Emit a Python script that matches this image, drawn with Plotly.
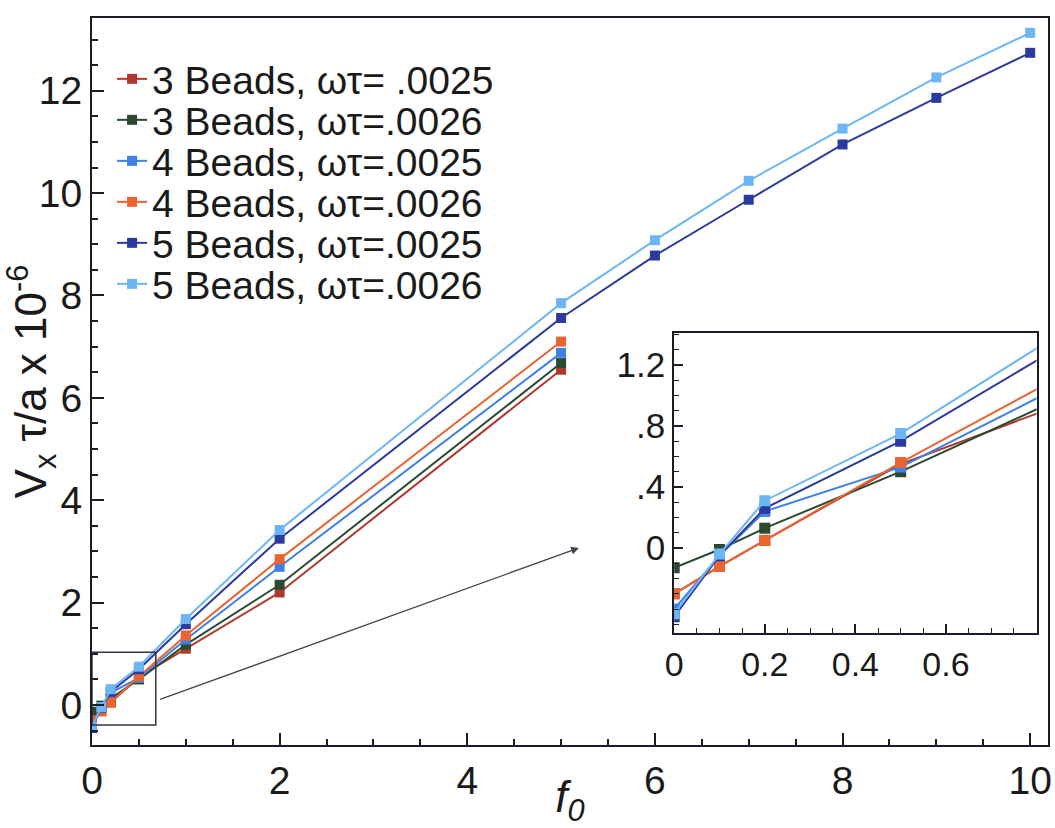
import plotly.graph_objects as go

# ---- data (V_x tau / a  x 1e-6) ----
f0_short = [0, 0.1, 0.2, 0.5, 1, 2, 5]
f0_long = [0, 0.1, 0.2, 0.5, 1, 2, 5, 6, 7, 8, 9, 10]

beads3_0025 = [-0.30, -0.12, 0.05, 0.55, 1.10, 2.20, 6.55]
beads3_0026 = [-0.13, -0.01, 0.13, 0.50, 1.18, 2.35, 6.68]
beads4_0025 = [-0.40, -0.05, 0.24, 0.53, 1.28, 2.70, 6.88]
beads4_0026 = [-0.30, -0.12, 0.05, 0.56, 1.36, 2.85, 7.10]
beads5_0025 = [-0.45, -0.05, 0.26, 0.70, 1.58, 3.25, 7.56, 8.78, 9.87, 10.95, 11.86, 12.74]
beads5_0026 = [-0.43, -0.04, 0.31, 0.75, 1.68, 3.42, 7.85, 9.08, 10.24, 11.26, 12.26, 13.13]

labels = [
    "3 Beads, ωτ= .0025",
    "3 Beads, ωτ=.0026",
    "4 Beads, ωτ=.0025",
    "4 Beads, ωτ=.0026",
    "5 Beads, ωτ=.0025",
    "5 Beads, ωτ=.0026",
]
colors = ["#b0382c", "#2c4a30", "#3f80e8", "#ea6430", "#2b3a9e", "#6cb6f6"]
xs = [f0_short, f0_short, f0_short, f0_short, f0_long, f0_long]
ys = [beads3_0025, beads3_0026, beads4_0025, beads4_0026, beads5_0025, beads5_0026]

main_xticks = [0, 2, 4, 6, 8, 10]
main_yticks = [0, 2, 4, 6, 8, 10, 12]
inset_xticks = [0, 0.2, 0.4, 0.6]
inset_xtext = ["0", "0.2", "0.4", "0.6"]
inset_yticks = [0, 0.4, 0.8, 1.2]
inset_ytext = ["0", ".4", ".8", "1.2"]

FONT = "Liberation Sans, Arial, sans-serif"
AX = "#1c1c28"

# layout geometry (pixels) used for legend placement
PLOT_TOP, PLOT_BOTTOM = 18, 745
legend_rows_px = [79, 120, 161, 202, 243, 284]
legend_names = ["legend", "legend2", "legend3", "legend4", "legend5", "legend6"]

fig = go.Figure()
for x, y, lab, c, lg in zip(xs, ys, labels, colors, legend_names):
    fig.add_trace(go.Scatter(x=x, y=y, name=lab, mode="lines+markers",
                             line=dict(color=c, width=2),
                             marker=dict(symbol="square", size=10, color=c),
                             xaxis="x", yaxis="y", legend=lg))
for x, y, lab, c in zip(xs, ys, labels, colors):
    fig.add_trace(go.Scatter(x=x, y=y, name=lab, mode="lines+markers",
                             line=dict(color=c, width=2),
                             marker=dict(symbol="square", size=11, color=c),
                             xaxis="x2", yaxis="y2", showlegend=False))

legend_layout = {}
for lg, yp in zip(legend_names, legend_rows_px):
    legend_layout[lg] = dict(
        x=0.021, y=(PLOT_BOTTOM - yp) / (PLOT_BOTTOM - PLOT_TOP),
        xanchor="left", yanchor="middle", bgcolor="rgba(0,0,0,0)",
        font=dict(size=39, family=FONT, color="#1a1a1a"))

fig.update_layout(
    width=1055, height=828,
    margin=dict(l=92, r=7, t=PLOT_TOP, b=828 - PLOT_BOTTOM, autoexpand=False),
    paper_bgcolor="white", plot_bgcolor="white",
    font=dict(family=FONT, color="#1a1a1a"),
    showlegend=True,
    xaxis=dict(domain=[0, 1], range=[0, 10.19], tickvals=main_xticks,
               automargin=False,
               showgrid=False, zeroline=False, showline=True, linecolor=AX,
               linewidth=2, mirror=True, ticks="inside", ticklen=12,
               tickwidth=2, tickcolor=AX, tickfont=dict(size=39),
               minor=dict(dtick=0.5, ticks="inside", ticklen=6, tickwidth=1.5, tickcolor=AX),
               title=dict(text="<i>f<sub>0</sub></i>", font=dict(size=44), standoff=0)),
    yaxis=dict(domain=[0, 1], range=[-0.78, 13.42], tickvals=main_yticks,
               automargin=False,
               showgrid=False, zeroline=False, showline=True, linecolor=AX,
               linewidth=2, mirror=True, ticks="inside", ticklen=12,
               tickwidth=2, tickcolor=AX, tickfont=dict(size=39),
               minor=dict(dtick=0.5, ticks="inside", ticklen=6, tickwidth=1.5, tickcolor=AX),
               title=dict(text="V<sub>x</sub> τ/a x 10<sup>-6</sup>", font=dict(size=44), standoff=2)),
    xaxis2=dict(domain=[0.609, 0.988], anchor="y2", range=[0, 0.8],
                tickvals=inset_xticks, ticktext=inset_xtext, automargin=False,
                showgrid=False, zeroline=False, showline=True, linecolor=AX,
                linewidth=2, mirror=True, ticks="inside", ticklen=9,
                tickwidth=1.5, tickcolor=AX, tickfont=dict(size=34),
                minor=dict(dtick=0.05, ticks="inside", ticklen=5, tickwidth=1, tickcolor=AX)),
    yaxis2=dict(domain=[0.154, 0.567], anchor="x2", range=[-0.557, 1.41],
                tickvals=inset_yticks, ticktext=inset_ytext, automargin=False,
                showgrid=False, zeroline=False, showline=True, linecolor=AX,
                linewidth=2, mirror=True, ticks="inside", ticklen=9,
                tickwidth=1.5, tickcolor=AX, tickfont=dict(size=35),
                minor=dict(dtick=0.1, ticks="inside", ticklen=5, tickwidth=1, tickcolor=AX)),
    **legend_layout,
)

# zoom box on main axes
fig.add_shape(type="rect", xref="x", yref="y", x0=0, x1=0.68, y0=-0.39, y1=1.03,
              line=dict(color="#33334a", width=1.5))
# arrow from box toward inset
fig.add_annotation(xref="x", yref="y", axref="x", ayref="y",
                   x=5.19, y=3.07, ax=0.71, ay=0.1, text="", showarrow=True,
                   arrowhead=2, arrowsize=1.2, arrowwidth=1.3, arrowcolor="#444450")

fig.write_html("out.html")
